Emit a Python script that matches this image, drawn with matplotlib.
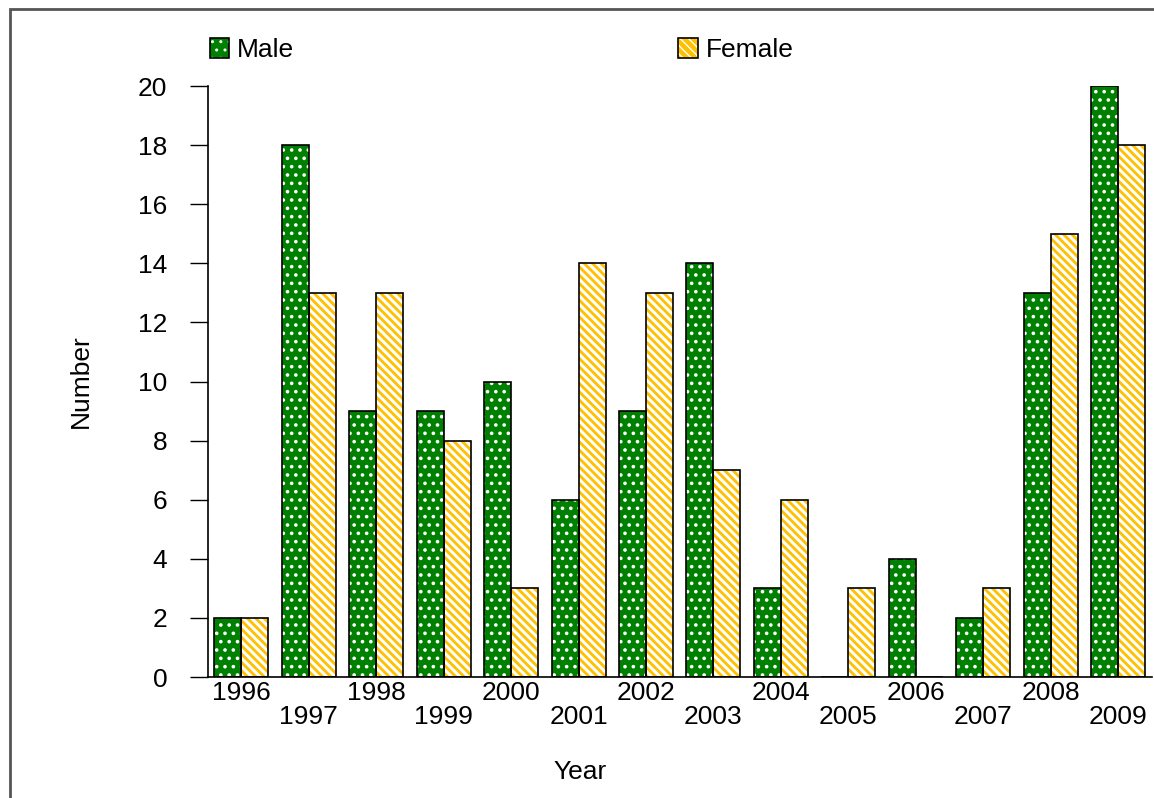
import numpy as np
import matplotlib
matplotlib.use('Agg')
import matplotlib.pyplot as plt
from matplotlib.patches import Patch, Rectangle

plt.rcParams['font.family'] = ['Liberation Sans', 'DejaVu Sans']

years = ['1996', '1997', '1998', '1999', '2000', '2001', '2002',
         '2003', '2004', '2005', '2006', '2007', '2008', '2009']
male = [2, 18, 9, 9, 10, 6, 9, 14, 3, 0, 4, 2, 13, 20]
female = [2, 13, 13, 8, 3, 14, 13, 7, 6, 3, 0, 3, 15, 18]

green = '#008000'
gold = '#FFC000'
fnt = 19

fig = plt.figure(figsize=(11.54, 7.98), dpi=100)
ax = fig.add_axes([0.180, 0.1516, 0.818, 0.7406])

x = np.arange(len(years))
w = 0.4

# fill + hatch first (white hatch), then black outlines on top
with plt.rc_context({'hatch.linewidth': 1.4}):
    ax.bar(x - w/2, male, w, color=green, edgecolor='white', lw=0, hatch='..')
with plt.rc_context({'hatch.linewidth': 2.2}):
    ax.bar(x + w/2, female, w, color=gold, edgecolor='white', lw=0, hatch='\\\\\\\\')
ax.bar(x - w/2, male, w, fill=False, edgecolor='k', lw=1.2)
ax.bar(x + w/2, female, w, fill=False, edgecolor='k', lw=1.2)

ax.set_xlim(-0.5, len(years) - 0.5)
ax.set_ylim(0, 20)
ax.set_yticks(range(0, 21, 2))
ax.set_xticks(x)
labs = [y if i % 2 == 0 else '\n' + y for i, y in enumerate(years)]
ax.set_xticklabels(labs, linespacing=1.0)
ax.tick_params(axis='x', length=0, pad=3, labelsize=fnt)
ax.tick_params(axis='y', length=13, pad=16, labelsize=fnt, width=1)

for s in ['top', 'right']:
    ax.spines[s].set_visible(False)
for s in ['left', 'bottom']:
    ax.spines[s].set_linewidth(1.2)

ax.set_ylabel('Number', fontsize=fnt)
ax.set_xlabel('Year', fontsize=fnt)
ax.xaxis.set_label_coords(0.395, -0.14)
ax.yaxis.set_label_coords(-0.122, 0.5)

# legend, two separate entries
with plt.rc_context({'hatch.linewidth': 1.4}):
    h1 = Patch(facecolor=green, edgecolor='white', hatch='..', lw=0)
with plt.rc_context({'hatch.linewidth': 2.2}):
    h2 = Patch(facecolor=gold, edgecolor='white', hatch='\\\\\\\\', lw=0)
o1 = Patch(fill=False, edgecolor='k', lw=1.2)
o2 = Patch(fill=False, edgecolor='k', lw=1.2)
leg1 = fig.legend([(h1, o1)], ['Male'], loc='center left', bbox_to_anchor=(0.161, 0.937),
                  frameon=False, fontsize=fnt, handlelength=0.75, handleheight=0.75,
                  handletextpad=0.3)
leg2 = fig.legend([(h2, o2)], ['Female'], loc='center left', bbox_to_anchor=(0.567, 0.937),
                  frameon=False, fontsize=fnt, handlelength=0.75, handleheight=0.75,
                  handletextpad=0.3)

# outer frame
fig.patches.append(Rectangle((10/1154, -0.1), 1.2, 1.1 - 9/798, transform=fig.transFigure,
                             fill=False, edgecolor='#555555', lw=2, figure=fig))

plt.savefig('out.png', dpi=100)
